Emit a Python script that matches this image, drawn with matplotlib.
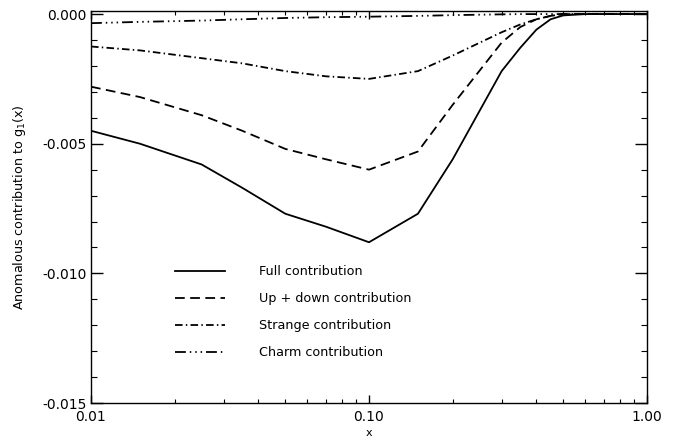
import numpy as np
import matplotlib
matplotlib.use("Agg")
import matplotlib.pyplot as plt
from matplotlib.ticker import FixedLocator, LogLocator, MultipleLocator, NullFormatter

# values
x_vals = [0.01, 0.015, 0.025, 0.035, 0.05, 0.07, 0.1, 0.15, 0.2, 0.3, 0.35, 0.4, 0.45, 0.5, 0.6, 0.8, 1.0]
full = [-0.0045, -0.0050, -0.0058, -0.0067, -0.0077, -0.0082, -0.0088, -0.0077, -0.0056,
        -0.0022, -0.0013, -0.0006, -0.0002, -0.00005, 0.0, 0.0, 0.0]
updown = [-0.0028, -0.0032, -0.0039, -0.0045, -0.0052, -0.0056, -0.0060, -0.0053, -0.0035,
          -0.0011, -0.0005, -0.0002, -0.00007, 0.0, 0.0, 0.0, 0.0]
strange = [-0.00125, -0.0014, -0.0017, -0.0019, -0.0022, -0.0024, -0.0025, -0.0022, -0.0016,
           -0.0007, -0.0004, -0.0002, -0.00007, 0.0, 0.0, 0.0, 0.0]
charm = [-0.00035, -0.0003, -0.00025, -0.0002, -0.00015, -0.00012, -0.0001, -0.00007, -0.00004,
         -0.00001, 0.0, 0.0, 0.0, 0.0, 0.0, 0.0, 0.0]

labels = ["Full contribution", "Up + down contribution", "Strange contribution", "Charm contribution"]
styles = ["-", (0, (5.4, 3.0)), (0, (4.2, 1.8, 0.8, 1.8)),
          (0, (6.0, 2.2, 0.8, 2.2, 0.8, 2.2, 0.8, 2.2))]

plt.rcParams['font.family'] = ['DejaVu Sans']

fig = plt.figure(figsize=(6.85, 4.4), dpi=100)
ax = fig.add_axes([91/685, 37/440, 556/685, 391.5/440])

for ys, ls, lab in zip([full, updown, strange, charm], styles, labels):
    ax.plot(x_vals, ys, color='black', lw=1.3, linestyle=ls, label=lab)

ax.set_xscale('log')
ax.set_xlim(0.01, 1.0)
ax.set_ylim(-0.015, 0.0001)

ax.xaxis.set_major_locator(FixedLocator([0.01, 0.1, 1.0]))
ax.set_xticklabels(["0.01", "0.10", "1.00"])
ax.xaxis.set_minor_locator(LogLocator(base=10, subs=np.arange(2, 10)))
ax.xaxis.set_minor_formatter(NullFormatter())
ax.yaxis.set_major_locator(MultipleLocator(0.005))
ax.yaxis.set_minor_locator(MultipleLocator(0.001))
ax.yaxis.set_major_formatter(plt.FuncFormatter(lambda v, p: "%.3f" % v))

ax.tick_params(axis='both', which='both', direction='in', top=True, right=True, labelsize=10)
ax.tick_params(axis='x', which='major', length=6, width=1.0, pad=5)
ax.tick_params(axis='x', which='minor', length=3, width=0.8)
ax.tick_params(axis='y', which='major', length=8.5, width=1.0, pad=3)
ax.tick_params(axis='y', which='minor', length=4.5, width=0.8)
for sp in ax.spines.values():
    sp.set_linewidth(1.0)

ax.set_xlabel("x", fontsize=8)
ax.xaxis.set_label_coords(0.5, -0.065)
ax.set_ylabel("Anomalous contribution to g$_1$(x)", fontsize=9.2)
ax.yaxis.set_label_coords(-0.113, 0.5)

ax.legend(loc='upper left', bbox_to_anchor=(175/685, 1 - 265/440), bbox_transform=fig.transFigure,
          frameon=False, fontsize=9.2, handlelength=3.9, handletextpad=2.7, labelspacing=1.1,
          borderpad=0, borderaxespad=0)

fig.savefig("out.png", dpi=100)
